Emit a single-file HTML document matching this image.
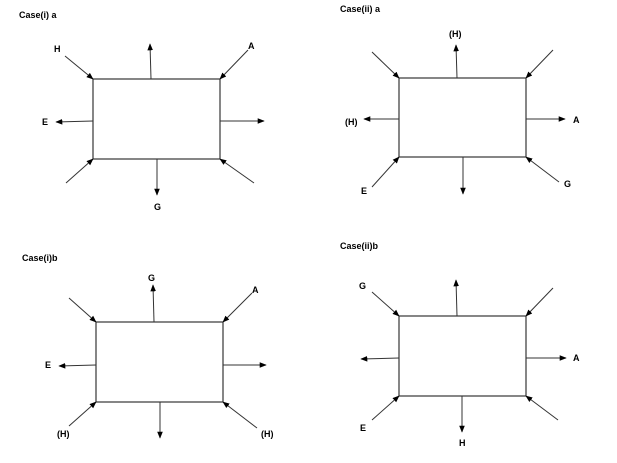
<!DOCTYPE html>
<html><head><style>html,body{margin:0;padding:0;background:#fff}svg{display:block}text{font-family:"Liberation Sans",sans-serif;font-weight:bold;font-size:9px;fill:#000}</style></head><body>
<svg width="617" height="463" viewBox="0 0 617 463" xmlns="http://www.w3.org/2000/svg">
<defs><marker id="m" viewBox="0 0 10 10" refX="9" refY="5" markerWidth="7" markerHeight="7" markerUnits="userSpaceOnUse" orient="auto"><path d="M0,1 L10,5 L0,9 z" fill="#000"/></marker></defs>
<g stroke="#444" stroke-width="1.3" fill="none">
<rect x="93" y="79" width="127" height="80"/>
<rect x="399" y="78" width="127" height="79"/>
<rect x="96" y="322" width="127" height="80"/>
<rect x="399" y="316" width="127" height="80"/>
</g>
<g stroke="#333" stroke-width="1" marker-end="url(#m)">
<line x1="65" y1="56" x2="93" y2="79"/><line x1="151" y1="79" x2="150" y2="44"/><line x1="248" y1="50" x2="220" y2="79"/>
<line x1="93" y1="121" x2="56" y2="122"/><line x1="220" y1="121" x2="264" y2="121"/>
<line x1="66" y1="183" x2="93" y2="159"/><line x1="157" y1="159" x2="157" y2="195"/><line x1="254" y1="183" x2="220" y2="159"/>

<line x1="372" y1="52" x2="399" y2="78"/><line x1="457" y1="78" x2="456" y2="45"/><line x1="553" y1="50" x2="526" y2="78"/>
<line x1="399" y1="119" x2="364" y2="119"/><line x1="526" y1="119" x2="565" y2="119"/>
<line x1="372" y1="187" x2="399" y2="157"/><line x1="463" y1="157" x2="463" y2="194"/><line x1="559" y1="182" x2="526" y2="157"/>

<line x1="69" y1="298" x2="96" y2="322"/><line x1="154" y1="322" x2="153" y2="285"/><line x1="252" y1="293" x2="223" y2="322"/>
<line x1="96" y1="365" x2="59" y2="366"/><line x1="223" y1="365" x2="266" y2="365"/>
<line x1="69" y1="426" x2="96" y2="402"/><line x1="160" y1="402" x2="160" y2="438"/><line x1="257" y1="428" x2="223" y2="402"/>

<line x1="372" y1="292" x2="399" y2="316"/><line x1="457" y1="316" x2="456" y2="280"/><line x1="553" y1="288" x2="526" y2="316"/>
<line x1="399" y1="358" x2="361" y2="359"/><line x1="526" y1="358" x2="566" y2="358"/>
<line x1="372" y1="420" x2="399" y2="396"/><line x1="462" y1="396" x2="462" y2="432"/><line x1="558" y1="420" x2="526" y2="396"/>
</g>
<text x="19" y="18">Case(i) a</text>
<text x="54" y="52">H</text><text x="248" y="49">A</text><text x="42" y="125">E</text><text x="154" y="210">G</text>
<text x="340" y="12">Case(ii) a</text>
<text x="449" y="37">(H)</text><text x="345" y="125">(H)</text><text x="573" y="123">A</text><text x="361" y="194">E</text><text x="564" y="187">G</text>
<text x="22" y="261">Case(i)b</text>
<text x="148" y="281">G</text><text x="252" y="293">A</text><text x="45" y="368">E</text><text x="57" y="437">(H)</text><text x="261" y="437">(H)</text>
<text x="340" y="249">Case(ii)b</text>
<text x="359" y="289">G</text><text x="573" y="361">A</text><text x="360" y="431">E</text><text x="459" y="446">H</text>
</svg>
</body></html>
